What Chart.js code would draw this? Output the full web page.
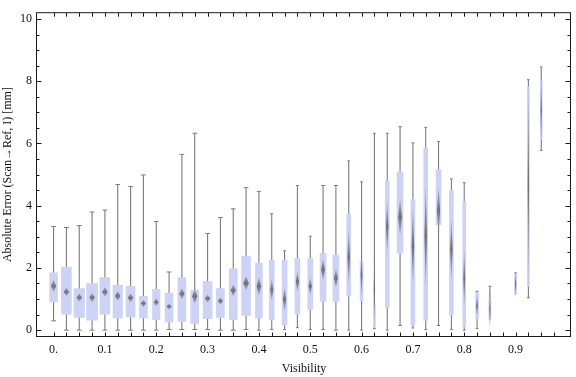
<!DOCTYPE html>
<html><head><meta charset="utf-8">
<script src="https://cdn.jsdelivr.net/npm/chart.js@4/dist/chart.umd.min.js"></script>
<style>html,body{margin:0;padding:0;background:#fff;}</style>
</head><body>
<canvas id="c" width="576" height="377" style="width:576px;height:377px;display:block"></canvas>
<script>
// ---- data ----
const visibility  = [0,0.025,0.05,0.075,0.1,0.125,0.15,0.175,0.2,0.225,0.25,0.275,0.3,0.325,0.35,0.375,0.4,0.425,0.45,0.475,0.5,0.525,0.55,0.575,0.6,0.625,0.65,0.675,0.7,0.725,0.75,0.775,0.8,0.825,0.85,0.9,0.925,0.95];
const whiskerLow  = [0.30,0,0,0,0,0,0,0,0,0.02,0.02,0.02,0.02,0,0,0.02,0,0.02,0.02,0.08,0.02,0.02,0,0,0,0.05,0,0.15,0.07,0.02,0.15,0.02,0,0.05,0.33,1.15,1.04,5.78];
const quartile1   = [0.91,0.51,0.41,0.32,0.51,0.39,0.42,0.39,0.34,0.26,0.28,0.22,0.37,0.41,0.34,0.47,0.39,0.34,0.17,0.51,0.67,0.92,0.92,1.10,0.94,0.10,0.73,2.48,0.16,0.31,3.38,0.49,0.10,0.37,0.33,1.15,1.41,6.12];
const meanValue   = [1.42,1.23,1.05,1.05,1.23,1.10,1.04,0.86,0.90,0.76,1.17,1.09,1.02,0.94,1.28,1.51,1.41,1.30,0.99,1.56,1.41,1.95,1.67,2.34,1.77,1.30,3.33,3.63,2.71,3.02,3.85,2.60,1.67,0.78,0.68,1.48,4.69,7.08];
const quartile3   = [1.84,2.03,1.34,1.50,1.69,1.44,1.41,1.09,1.31,1.19,1.69,1.28,1.56,1.34,1.97,2.38,2.16,2.25,2.25,2.31,2.31,2.47,2.41,3.73,2.22,0.81,4.80,5.09,4.19,5.85,5.16,4.49,4.13,1.22,1.01,1.79,7.83,8.02];
const whiskerHigh = [3.33,3.30,3.36,3.80,3.86,4.68,4.62,4.99,3.49,1.87,5.65,6.33,3.11,3.62,3.90,4.58,4.46,3.74,2.55,4.65,3.02,4.65,4.65,5.44,4.77,6.33,6.33,6.54,6.02,6.52,6.06,4.86,4.74,1.25,1.41,1.84,8.05,8.46];
const meanCI      = [0.20,0.14,0.14,0.15,0.16,0.16,0.15,0.12,0.13,0.10,0.18,0.24,0.13,0.12,0.19,0.23,0.30,0.35,0.38,0.33,0.28,0.35,0.31,0.88,0.73,1.20,0.83,0.60,1.30,1.67,0.75,1.00,0.94,0.35,0.70,0.40,3.50,1.20];
const xTickValues = [0,0.1,0.2,0.3,0.4,0.5,0.6,0.7,0.8,0.9];
const xTickLabels = ['0.','0.1','0.2','0.3','0.4','0.5','0.6','0.7','0.8','0.9'];
const yTickValues = [0,2,4,6,8,10];
const yTickLabels = ['0','2','4','6','8','10'];

// ---- style ----
const boxWidthPx = [8,10,10.5,11,10,9.5,9,8,7.5,8,8,8,9,8,8,9,7,5,5,5,5,6,6,4,3,2,4,6,4,4,5,4,3,3,2,2,2,2];
const BOX_COLOR = '#cdd3f5';
const WHISKER_COLOR = '#7b7b7b';
const TEXT_COLOR = '#111';
const FONT = "'Liberation Serif', 'DejaVu Serif', serif";

// whiskers
const whiskerData = visibility.map((x, i) => ({x, y: [whiskerLow[i], whiskerHigh[i]]}));
// boxes grouped by drawn width
const widths = [...new Set(boxWidthPx)];
const boxDatasets = widths.map(w => ({
  type: 'bar',
  data: visibility.map((x, i) => ({x, y: [quartile1[i], quartile3[i]], w: boxWidthPx[i]})).filter(d => d.w === w),
  backgroundColor: BOX_COLOR, borderWidth: 0, barThickness: w, grouped: false, order: 2
}));
// caps
const capData = [], capRadius = [];
visibility.forEach((x, i) => {
  const r = Math.max(1.4, Math.min(2.4, boxWidthPx[i] * 0.3));
  if (whiskerLow[i] < quartile1[i]) { capData.push({x, y: whiskerLow[i]}); capRadius.push(r); }
  if (whiskerHigh[i] > quartile3[i]) { capData.push({x, y: whiskerHigh[i]}); capRadius.push(r); }
});

const framePlugin = {
  id: 'frameAndDiamonds',
  afterDatasetsDraw(chart) {
    const ctx = chart.ctx, xs = chart.scales.x, ys = chart.scales.y, a = chart.chartArea;
    ctx.save();
    ctx.beginPath(); ctx.rect(a.left, a.top, a.right - a.left, a.bottom - a.top); ctx.clip();
    visibility.forEach((v, i) => {
      const cx = xs.getPixelForValue(v);
      const yc = ys.getPixelForValue(meanValue[i]);
      const yt = ys.getPixelForValue(meanValue[i] + meanCI[i]);
      const yb = ys.getPixelForValue(meanValue[i] - meanCI[i]);
      const hw = Math.max(0.7, Math.min(2.7, boxWidthPx[i] * 0.32));
      const g = ctx.createLinearGradient(0, yt, 0, yb);
      g.addColorStop(0, 'rgba(112,112,120,0.35)');
      g.addColorStop(0.5, 'rgba(112,112,120,1)');
      g.addColorStop(1, 'rgba(112,112,120,0.35)');
      ctx.fillStyle = g;
      ctx.beginPath();
      ctx.moveTo(cx, yt); ctx.lineTo(cx + hw, yc); ctx.lineTo(cx, yb); ctx.lineTo(cx - hw, yc);
      ctx.closePath(); ctx.fill();
    });
    ctx.restore();
  },
  afterDraw(chart) {
    const ctx = chart.ctx, xs = chart.scales.x, ys = chart.scales.y, a = chart.chartArea;
    ctx.save();
    ctx.strokeStyle = '#1a1a1a'; ctx.lineWidth = 1;
    const L = a.left - 0.5, R = a.right - 0.5, T = a.top + 0.5, B = a.bottom - 0.5;
    ctx.strokeRect(L, T, R - L, B - T);
    ctx.beginPath();
    for (let k = 0; k < 40; k++) {
      const px = Math.round(xs.getPixelForValue(k * 0.025)) + 0.5;
      ctx.moveTo(px, B); ctx.lineTo(px, B - 4);
      ctx.moveTo(px, T); ctx.lineTo(px, T + 4);
    }
    for (let k = 0; k <= 20; k++) {
      const len = (k % 4 === 0) ? 5 : 3;
      const py = Math.round(ys.getPixelForValue(k * 0.5)) + 0.5;
      ctx.moveTo(L, py); ctx.lineTo(L + len, py);
      ctx.moveTo(R, py); ctx.lineTo(R - len, py);
    }
    ctx.stroke();
    ctx.restore();
  }
};

new Chart(document.getElementById('c'), {
  type: 'bar',
  data: {
    datasets: [
      {type: 'bar', data: whiskerData, backgroundColor: WHISKER_COLOR, borderWidth: 0, barThickness: 1.1,
       inflateAmount: 0, grouped: false, order: 3},
      ...boxDatasets,
      {type: 'scatter', data: capData, pointStyle: 'line', pointRadius: capRadius, pointBorderWidth: 1,
       pointBorderColor: WHISKER_COLOR, pointBackgroundColor: WHISKER_COLOR, order: 1}
    ]
  },
  options: {
    responsive: false, animation: false, devicePixelRatio: 1,
    layout: {padding: {top: 4, right: 1, left: 0, bottom: 0}},
    plugins: {legend: {display: false}, tooltip: {enabled: false}},
    events: [],
    scales: {
      x: {
        type: 'linear', min: -0.0323, max: 1.008, offset: false,
        grid: {display: false, drawTicks: false}, border: {display: false},
        afterBuildTicks: s => { s.ticks = xTickValues.map(v => ({value: v})); },
        afterFit: s => { s.height = 40; },
        ticks: {autoSkip: false, maxRotation: 0, padding: 6, color: TEXT_COLOR,
                font: {family: FONT, size: 12}, callback: (v, i) => xTickLabels[i]},
        title: {display: true, text: 'Visibility', color: TEXT_COLOR, font: {family: FONT, size: 12},
                padding: {top: 0, bottom: 1}}
      },
      y: {
        type: 'linear', min: -0.22, max: 10.22,
        grid: {display: false, drawTicks: false}, border: {display: false},
        afterBuildTicks: s => { s.ticks = yTickValues.map(v => ({value: v})); },
        afterFit: s => { s.width = 37; },
        ticks: {autoSkip: false, padding: 5, color: TEXT_COLOR,
                font: {family: FONT, size: 12}, callback: (v, i) => yTickLabels[i]},
        title: {display: true, text: 'Absolute Error (Scan\u2192Ref, I) [mm]', color: TEXT_COLOR,
                font: {family: FONT, size: 12}, padding: {top: 1, bottom: 0}}
      }
    }
  },
  plugins: [framePlugin]
});
</script>
</body></html>
